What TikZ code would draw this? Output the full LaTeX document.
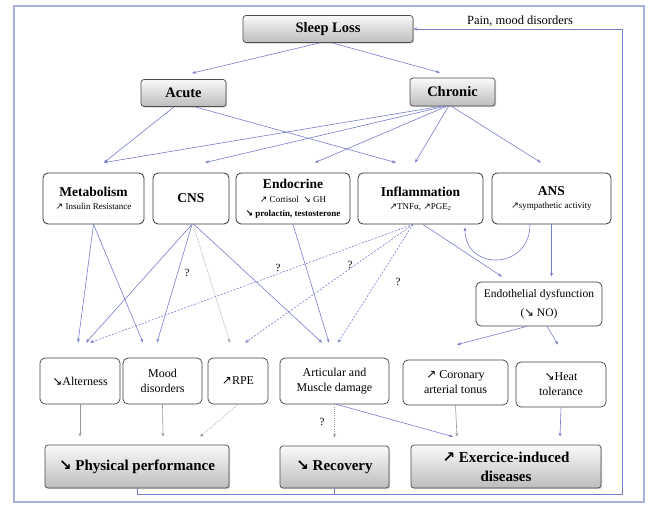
\documentclass[tikz,border=0pt]{standalone}
\usepackage{fontspec}
\setmainfont{Liberation Serif}
\newfontfamily\arrfont{DejaVu Sans}
\usetikzlibrary{shadows,arrows.meta}
\newcommand\nea{{\arrfont\char"2197}}
\newcommand\sea{{\arrfont\char"2198}}
\newcommand\cattitle{\fontsize{13.5}{15}\selectfont\bfseries}
\definecolor{linec}{RGB}{118,124,205}
\definecolor{framec}{RGB}{168,176,224}
\definecolor{grayl}{RGB}{150,150,160}
\begin{document}
\begin{tikzpicture}[x=1pt,y=-1pt,
  topbox/.style={draw=black!70, line width=0.7pt, rounded corners=3pt, top color=gray!4, bottom color=gray!52,
     drop shadow={opacity=0.35,shadow xshift=1.2pt,shadow yshift=-1.2pt},
     font=\fontsize{14.5}{16}\selectfont\bfseries, inner sep=0pt, align=center},
  outbox/.style={topbox, font=\fontsize{15}{19}\selectfont\bfseries},
  catbox/.style={draw=black!80, line width=0.8pt, rounded corners=5pt, fill=white, align=center,
     inner sep=1pt, font=\fontsize{9}{13}\selectfont},
  effbox/.style={draw=black!75, line width=0.7pt, rounded corners=5pt, fill=white, align=center,
     inner sep=1pt, font=\fontsize{12}{15}\selectfont},
  ar/.style={-{Stealth[length=4pt,width=3pt]}, draw=linec, line width=0.6pt},
  gar/.style={ar, draw=grayl},
  dsh/.style={ar, dash pattern=on 2pt off 1.5pt},
  dtt/.style={ar, draw=grayl, dash pattern=on 1pt off 1.2pt},
  qm/.style={font=\fontsize{11}{12}\selectfont, inner sep=0pt}
]
\useasboundingbox (0,0) rectangle (649,506);
\draw[framec, line width=1.5pt] (14,6) rectangle (644,502);

% top level
\node[topbox, minimum width=170pt, minimum height=27pt] (sleep) at (328,29) {Sleep Loss};
\node[topbox, minimum width=85pt, minimum height=27pt] (acute) at (183.5,93) {Acute};
\node[topbox, minimum width=85pt, minimum height=28pt] (chronic) at (452.5,92) {Chronic};
\node[font=\fontsize{12.5}{14}\selectfont] (pain) at (520,21) {Pain, mood disorders};

% categories
\node[catbox, minimum width=101pt, minimum height=51pt] (metab) at (93.5,198.5)
  {{\cattitle Metabolism}\\ \nea\ Insulin Resistance};
\node[catbox, minimum width=76pt, minimum height=51pt] (cns) at (191,198.5)
  {{\cattitle CNS}};
\node[catbox, minimum width=114pt, minimum height=51pt, font=\fontsize{9}{14}\selectfont] (endo) at (293,198.5)
  {{\cattitle Endocrine}\\ \nea\ Cortisol\ \ \sea\ GH\\ {\bfseries\sea\ prolactin, testosterone}};
\node[catbox, minimum width=125pt, minimum height=51pt] (infl) at (420.5,198.5)
  {{\cattitle Inflammation}\\ \nea TNFα, \nea PGE\textsubscript{2}};
\node[catbox, minimum width=119pt, minimum height=51pt] (ans) at (551.5,198.5)
  {{\cattitle ANS}\\ \nea sympathetic activity};
\node[effbox, minimum width=126pt, minimum height=44pt, font=\fontsize{11.5}{19}\selectfont] (endoth) at (539,304)
  {Endothelial dysfunction\\ (\sea\ NO)};

% effects
\node[effbox, minimum width=80pt, minimum height=46pt] (alert) at (80,381) {\sea Alterness};
\node[effbox, minimum width=79pt, minimum height=46pt] (mood) at (162.5,381) {Mood\\ disorders};
\node[effbox, minimum width=60pt, minimum height=46pt] (rpe) at (238,381) {\nea RPE};
\node[effbox, minimum width=109pt, minimum height=46pt] (artic) at (334.5,381) {Articular and\\ Muscle damage};
\node[effbox, minimum width=105pt, minimum height=45pt] (coron) at (455.5,382.5) {\nea\ Coronary\\ arterial tonus};
\node[effbox, minimum width=90pt, minimum height=45pt] (heat) at (561,384.5) {\sea Heat\\ tolerance};

% outcomes
\node[outbox, minimum width=184pt, minimum height=43pt] (phys) at (137,466.5) {\sea\ Physical performance};
\node[outbox, minimum width=109pt, minimum height=42pt] (recov) at (334.5,467) {\sea\ Recovery};
\node[outbox, minimum width=190pt, minimum height=43pt] (exer) at (506,466.5) {\nea\ Exercice-induced\\ diseases};

% sleep loss split
\draw[ar] ([xshift=-8pt]sleep.south) -- ([xshift=8.5pt,yshift=6pt]acute.north);
\draw[ar] ([xshift=4pt]sleep.south) -- ([xshift=-12.5pt,yshift=5pt]chronic.north);

% acute / chronic to categories
\draw[ar] ([xshift=-9.5pt]acute.south) -- ([xshift=10.5pt,yshift=10pt]metab.north);
\draw[ar] ([xshift=11.5pt]acute.south) -- ([xshift=-24.5pt,yshift=10pt]infl.north);
\draw[ar] ([xshift=-12pt]chronic.south) -- ([xshift=10.5pt,yshift=10pt]metab.north);
\draw[ar] ([xshift=-8pt]chronic.south) -- ([xshift=14pt,yshift=10pt]cns.north);
\draw[ar] ([xshift=-6pt]chronic.south) -- ([xshift=22pt,yshift=10pt]endo.north);
\draw[ar] ([xshift=-4pt]chronic.south) -- ([xshift=-5.5pt,yshift=10pt]infl.north);
\draw[ar] ([xshift=-1pt]chronic.south) -- ([xshift=-10.5pt,yshift=10pt]ans.north);

% categories to effects
\draw[ar] (metab.south) -- ([xshift=-2pt,yshift=15pt]alert.north);
\draw[ar] (metab.south) -- ([xshift=-19.5pt,yshift=15pt]mood.north);
\draw[ar] ([xshift=1pt]cns.south) -- ([xshift=6pt,yshift=15pt]alert.north);
\draw[ar] ([xshift=1pt]cns.south) -- ([xshift=-5.5pt,yshift=15pt]mood.north);
\draw[dtt] ([xshift=2pt]cns.south) -- ([xshift=-8pt,yshift=15pt]rpe.north);
\draw[ar] ([xshift=3pt]cns.south) -- ([xshift=-12.5pt,yshift=15pt]artic.north);
\draw[ar] (endo.south) -- ([xshift=-5.5pt,yshift=15pt]artic.north);
\draw[dsh] ([xshift=-7.5pt]infl.south) -- ([xshift=10pt,yshift=15pt]alert.north);
\draw[dsh] ([xshift=-7.5pt]infl.south) -- ([xshift=7pt,yshift=15pt]rpe.north);
\draw[dsh] ([xshift=-7.5pt]infl.south) -- ([xshift=3.5pt,yshift=15pt]artic.north);
\draw[ar] ([xshift=2.5pt]infl.south) -- ([xshift=-37pt,yshift=5pt]endoth.north);
\draw[ar] (ans.south) -- ([xshift=12.5pt,yshift=5pt]endoth.north);
\draw[ar] ([xshift=-21.5pt]ans.south) .. controls +(0,46) and +(0,44) .. ([xshift=44.5pt,yshift=-3pt]infl.south);

\node[qm] (q1) at (187,273) {?};
\node[qm] (q2) at (278,268) {?};
\node[qm] (q3) at (350,265) {?};
\node[qm] (q4) at (398,282) {?};

% endothelial
\draw[ar] ([xshift=-12pt]endoth.south) -- ([xshift=1.5pt,yshift=15pt]coron.north);
\draw[ar] ([xshift=8pt]endoth.south) -- ([xshift=-3pt,yshift=17pt]heat.north);

% effects to outcomes
\draw[gar] (alert.south) -- ([xshift=-57pt,yshift=8pt]phys.north);
\draw[gar] (mood.south) -- ([xshift=26pt,yshift=8pt]phys.north);
\draw[dtt] (rpe.south) -- ([xshift=63pt,yshift=8pt]phys.north);
\draw[dtt] (artic.south) -- ([yshift=8pt]recov.north);
\draw[ar] ([xshift=2pt]artic.south) -- ([xshift=-53pt,yshift=8pt]exer.north);
\draw[gar] (coron.south) -- ([xshift=-49pt,yshift=8pt]exer.north);
\draw[ar] (heat.south) -- ([xshift=54pt,yshift=8pt]exer.north);
\node[qm] (q5) at (322,422) {?};

% feedback loop
\coordinate (fbl) at (137,494);
\coordinate (fbr) at (622,494);
\coordinate (fbt) at (622,29);
\draw[ar] (phys.south) -- (fbl) -- (fbr) -- (fbt) -- (sleep.east);
\draw[draw=linec, line width=0.6pt] (recov.south) -- (recov.south |- fbl);
\end{tikzpicture}
\end{document}
